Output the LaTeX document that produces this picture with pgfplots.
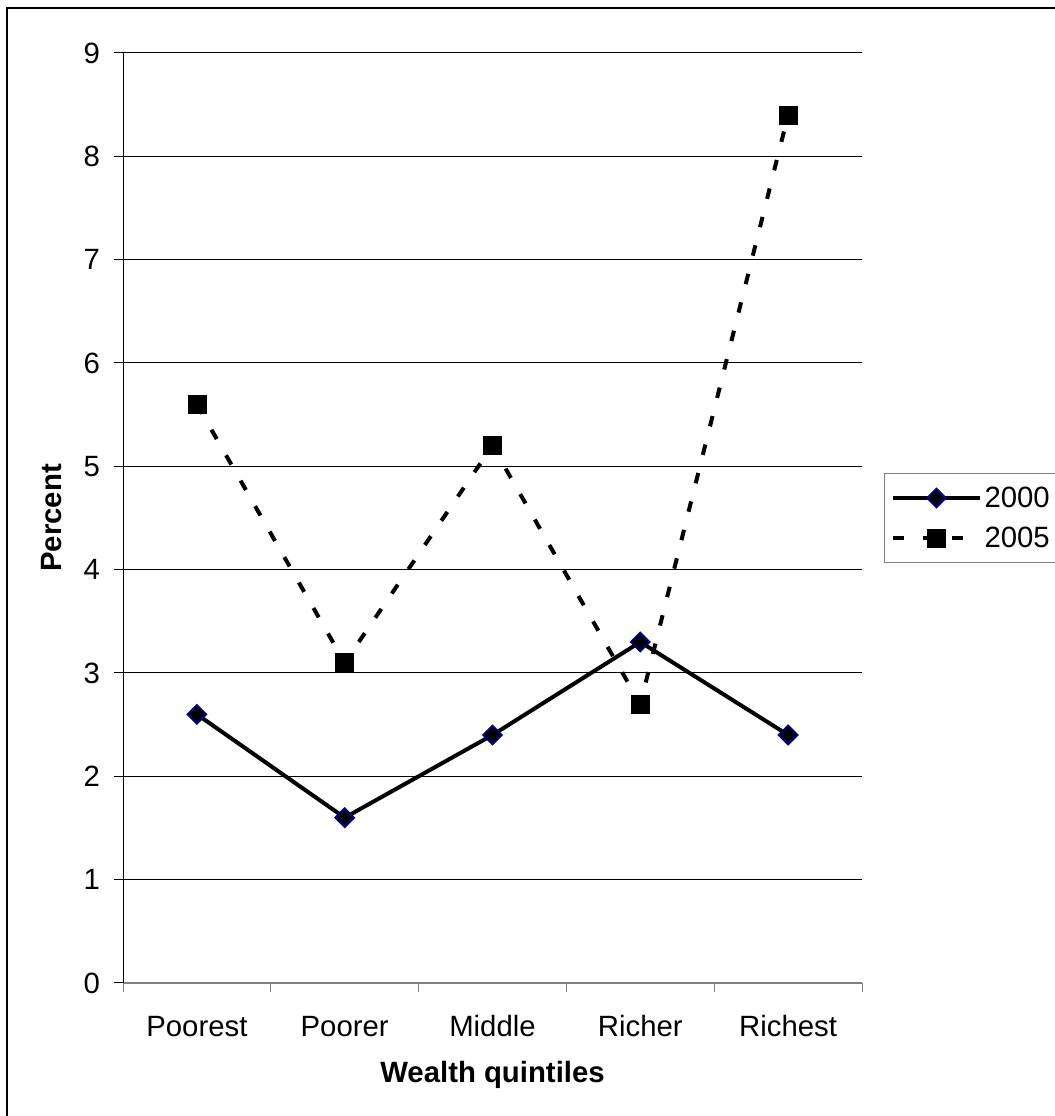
\documentclass[border=0pt]{standalone}
\usepackage{pgfplots}
\pgfplotsset{compat=1.18}
\usepackage{fontspec}
\setmainfont{Liberation Sans}
\definecolor{navymark}{RGB}{0,0,128}
\definecolor{axisgray}{RGB}{128,128,128}

\begin{document}
\begin{tikzpicture}[x=1pt,y=1pt]
\useasboundingbox (0,0) rectangle (791.25,837);
% chart frame (top and left edges)
\draw[line width=1.1pt] (5.25,-5) -- (5.25,831) -- (800,831);
\begin{axis}[
  at={(92.25pt,99.75pt)}, anchor=south west,
  scale only axis, width=554.25pt, height=697.5pt,
  xmin=0.5, xmax=5.5, ymin=0, ymax=9,
  axis x line*=bottom, axis y line*=left,
  x axis line style={draw=axisgray, line width=0.9pt},
  y axis line style={draw=black, line width=0.75pt},
  xtick={1,2,3,4,5},
  xticklabels={Poorest,Poorer,Middle,Richer,Richest},
  major x tick style={draw=none},
  minor xtick={0.5,1.5,2.5,3.5,4.5,5.5},
  minor x tick style={draw=axisgray, line width=0.75pt},
  minor tick length=6.75pt,
  ytick={0,1,...,9},
  major tick length=6.75pt,
  tick align=outside,
  y tick style={draw=black, line width=0.75pt},
  % gridlines above the zero line only
  extra y ticks={1,2,...,9},
  extra y tick labels={},
  extra y tick style={grid=major},
  grid style={black, line width=0.75pt},
  /pgf/number format/assume math mode=true,
  ticklabel style={font=\fontsize{22}{26}\selectfont},
  xticklabel style={anchor=base, yshift=-33pt},
  yticklabel style={anchor=east, xshift=-7pt},
  xlabel={Wealth quintiles},
  ylabel={Percent},
  label style={font=\bfseries\fontsize{22}{26}\selectfont},
  xlabel style={at={(axis description cs:0.5,-0.1075)}, anchor=base},
  ylabel style={at={(axis description cs:-0.0961,0.5)}, anchor=center},
  legend style={at={(axis description cs:1,0.5)}, anchor=west, xshift=16.5pt,
    draw=axisgray, line width=0.75pt, font=\fontsize{22}{26}\selectfont,
    inner xsep=5pt, inner ysep=8pt, row sep=9pt},
  legend cell align=left,
  legend image code/.code={\draw[mark repeat=2,mark phase=2,#1] plot coordinates {(0pt,0pt)(32.5pt,0pt)(65pt,0pt)};},
]
\addplot[line width=3pt, black, mark=square*, mark size=4.9pt,
  mark options={solid, rotate=45, fill=black, draw=navymark, line width=1.5pt}]
  coordinates {(1,2.6) (2,1.6) (3,2.4) (4,3.3) (5,2.4)};
\addlegendentry{2000}
\addplot[line width=3pt, black, dash pattern=on 8pt off 14pt, mark=square*, mark size=6.8pt,
  mark options={solid, fill=black, draw=black, line width=0.5pt}]
  coordinates {(1,5.6) (2,3.1) (3,5.2) (4,2.7) (5,8.4)};
\addlegendentry{2005}
\end{axis}
\end{tikzpicture}
\end{document}
